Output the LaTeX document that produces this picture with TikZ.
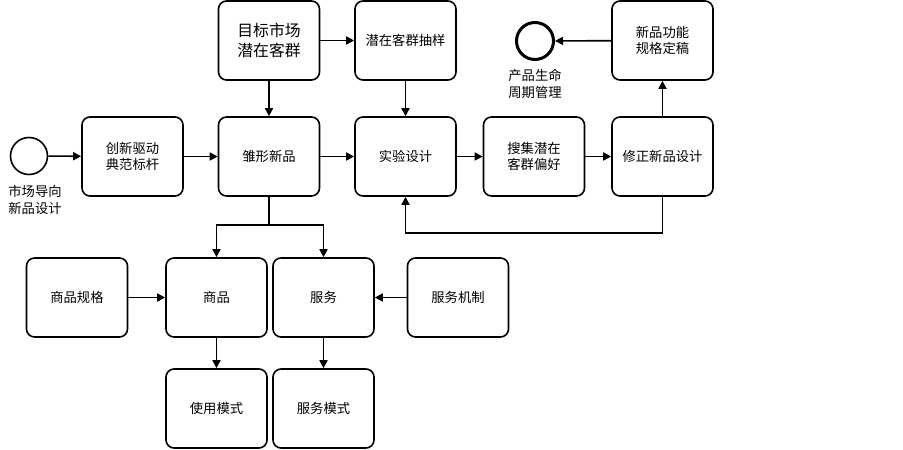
\documentclass[tikz,border=0pt]{standalone}
\usepackage{fontspec}
\newfontfamily\cjk{Noto Sans CJK SC}
\usetikzlibrary{arrows.meta}
\begin{document}
\begin{tikzpicture}[x=1pt,y=-1pt,
				font=\cjk\fontsize{13.3}{16.5}\selectfont,
				box/.style={draw,line width=1.6pt,rounded corners=8pt,minimum width=101pt,minimum height=79pt,align=center,inner sep=2pt},
				event/.style={circle,draw,line width=1.6pt,minimum size=37pt,inner sep=0pt},
				caption/.style={align=center,inner sep=0pt},
				flow/.style={line width=1.6pt,-{Triangle[length=8pt,width=8pt]}}]
\useasboundingbox (0,0) rectangle (903,450);
% top row
\node[box,font=\cjk\fontsize{15.8}{19.5}\selectfont] (target) at (269,40.5) {目标市场\\潜在客群};
\node[box] (sample) at (405.5,40.5) {潜在客群抽样};
\node[box] (final) at (662.5,40.5) {新品功能\\规格定稿};
\node[event,line width=3pt] (stop) at (535,41) {};
\node[caption] (stoplabel) at (535,84) {产品生命\\周期管理};
% middle row
\node[event] (start) at (29,156) {};
\node[caption] (startlabel) at (35,200) {市场导向\\新品设计};
\node[box] (drive) at (132.5,156.5) {创新驱动\\典范标杆};
\node[box] (proto) at (269,156.5) {雏形新品};
\node[box] (exp) at (405.5,156.5) {实验设计};
\node[box] (collect) at (534,156.5) {搜集潜在\\客群偏好};
\node[box] (revise) at (662.5,156.5) {修正新品设计};
% lower rows
\node[box] (goodsspec) at (77,297.5) {商品规格};
\node[box] (goods) at (216.5,297.5) {商品};
\node[box] (service) at (323.5,297.5) {服务};
\node[box] (mech) at (458,297.5) {服务机制};
\node[box] (usage) at (216.5,408.5) {使用模式};
\node[box] (servmode) at (323.5,408.5) {服务模式};
\coordinate (split) at (269,225);
\coordinate (back) at (662.5,233);
% connectors
\draw[flow] (start) -- (drive);
\draw[flow] (drive) -- (proto);
\draw[flow] (proto) -- (exp);
\draw[flow] (exp) -- (collect);
\draw[flow] (collect) -- (revise);
\draw[flow] (revise) -- (final);
\draw[flow] (final) -- (stop);
\draw[flow] (target) -- (sample);
\draw[flow] (target) -- (proto);
\draw[flow] (sample) -- (exp);
\draw[flow] (revise.south) -- (back) -| (exp.south);
\draw[line width=1.6pt] (proto.south) -- (split);
\draw[flow] (split) -| (goods.north);
\draw[flow] (split) -| (service.north);
\draw[flow] (goodsspec) -- (goods);
\draw[flow] (mech) -- (service);
\draw[flow] (goods) -- (usage);
\draw[flow] (service) -- (servmode);
\end{tikzpicture}
\end{document}
